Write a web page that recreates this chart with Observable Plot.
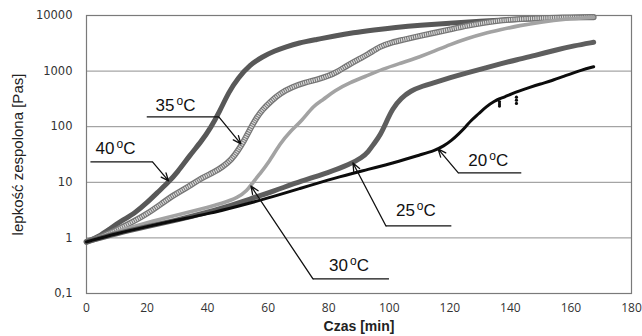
<!DOCTYPE html>
<html>
<head>
<meta charset="utf-8">
<script src="https://cdn.jsdelivr.net/npm/d3@7"></script>
<script src="https://cdn.jsdelivr.net/npm/@observablehq/plot@0.6"></script>
<style>
  body { margin: 0; background: #fff; }
  #chart svg { display: block; }
</style>
</head>
<body>
<div id="chart"></div>
<script>
// ---- data (time in min, viscosity in Pas) ----
const time40 = [0, 4, 8, 12, 16, 20, 24, 27, 30, 34, 38, 41, 44, 47, 50, 54, 58, 62, 66, 70, 76, 82, 88, 95, 102, 110, 120, 130, 140, 150, 160, 167.5];
const visc40 = [0.85, 1.05, 1.5, 2.1, 2.8, 4.3, 7, 10, 15, 30, 55, 95, 190, 420, 750, 1300, 1800, 2300, 2750, 3200, 3700, 4300, 4900, 5500, 6100, 6700, 7300, 7900, 8400, 8900, 9200, 9500];

const time35 = [0, 5, 10, 15, 20, 25, 29, 34, 38, 42, 45, 48, 50, 52, 54, 56, 58, 61, 64, 68, 72, 76, 80, 83, 86, 90, 93, 97, 101, 104, 110, 115, 120, 126, 132, 137, 145, 155, 167.5];
const visc35 = [0.85, 1.05, 1.4, 1.9, 2.7, 4.2, 6, 8.5, 12, 15, 19, 26, 37, 55, 90, 140, 200, 290, 400, 520, 620, 700, 820, 980, 1250, 1650, 2000, 2800, 3300, 3600, 4300, 4900, 5600, 6600, 7500, 8200, 8800, 9200, 9300];

const time30 = [0, 10, 20, 30, 38, 45, 50, 53, 55, 57.6, 60, 64, 67, 71, 75, 78, 82, 87, 92, 98, 104, 110, 115, 120, 126, 131, 137, 143, 150, 158, 167.5];
const visc30 = [0.85, 1.3, 1.9, 2.6, 3.3, 4.2, 5.3, 7, 10, 15, 22, 50, 80, 125, 240, 300, 450, 620, 800, 1100, 1400, 1800, 2300, 3000, 3900, 4700, 5600, 6600, 7600, 8600, 9300];

const time25 = [0, 10, 20, 30, 38, 46, 54, 62, 71, 80, 87, 91, 93, 95, 97, 99, 101, 104, 107, 111, 115, 120, 126, 132, 137, 142, 148, 155, 161, 167.5];
const visc25 = [0.85, 1.2, 1.6, 2.1, 2.7, 3.6, 5, 7, 10.6, 15, 21, 28, 35, 50, 70, 120, 210, 330, 440, 540, 620, 760, 940, 1150, 1365, 1600, 1900, 2400, 2850, 3300];

const time20 = [0, 10, 20, 30, 40, 50, 60, 70, 82, 93, 104, 110, 115, 118, 120.5, 123, 125, 127, 129.5, 132, 134.8, 136.5, 138, 140.4, 143, 146, 150, 153.6, 158, 163.6, 167.5];
const visc20 = [0.85, 1.2, 1.6, 2.1, 2.7, 3.7, 5.2, 7.6, 12, 17, 24.5, 31, 37, 45, 56, 75, 96, 130, 170, 230, 290, 320, 340, 390, 440, 500, 590, 670, 820, 1050, 1200];

// stray measurement points on the 20 °C curve
const glitchTime = [136.4, 136.4, 136.4, 142, 142, 142];
const glitchVisc = [280, 255, 235, 340, 300, 262];

// axis ticks
const xTicks = [0, 20, 40, 60, 80, 100, 120, 140, 160, 180];
const yTicks = [0.1, 1, 10, 100, 1000, 10000];
const yTickLabels = ["0,1", "1", "10", "100", "1000", "10000"];

// annotation labels (data coordinates)
const labelText = ["35°C", "40°C", "30°C", "25°C", "20°C"];
const labelTime = [22.8, 3.0, 80.1, 102.2, 126.1];
const labelVisc = [237, 39.8, 0.313, 3.06, 24.3];
// underline segments
const lineT1 = [19.9, 1.3, 99.9, 120.5, 143.6];
const lineT2 = [43.7, 21.8, 74.8, 98.9, 122.8];
const lineV = [150, 23.3, 0.183, 1.64, 14.8];
// arrow tips
const tipTime = [51.0, 27.1, 54.3, 88.0, 116.1];
const tipVisc = [49, 10.6, 8.6, 22.3, 39.9];

// ---- build tables ----
const mk = (ts, vs) => ts.map((t, i) => ({t, v: vs[i]}));
const s40 = mk(time40, visc40), s35 = mk(time35, visc35), s30 = mk(time30, visc30),
      s25 = mk(time25, visc25), s20 = mk(time20, visc20), glitch = mk(glitchTime, glitchVisc);
const ann = labelText.map((txt, i) => ({
  txt, lt: labelTime[i], lv: labelVisc[i],
  a: lineT1[i], b: lineT2[i], v: lineV[i], tt: tipTime[i], tv: tipVisc[i]
}));

const curve = "basis";
const chart = Plot.plot({
  width: 642,
  height: 336,
  marginLeft: 86,
  marginRight: 11,
  marginTop: 15,
  marginBottom: 43,
  style: {background: "#fff", fontFamily: "'Open Sans', sans-serif", fontSize: "12px", color: "#333"},
  x: {domain: [0, 180]},
  y: {type: "log", domain: [0.1, 10000]},
  marks: [
    Plot.ruleY(yTicks, {stroke: "#8f8f8f", strokeWidth: 1}),
    Plot.frame({stroke: "#7a7a7a", strokeWidth: 1.2}),
    Plot.axisX({ticks: xTicks, tickSize: 0, tickPadding: 10, label: null, fontFamily: "'Open Sans', sans-serif", fontSize: 12, fill: "#333"}),
    Plot.axisY({ticks: yTicks, tickSize: 0, tickPadding: 14, label: null,
      tickFormat: d => yTickLabels[yTicks.indexOf(d)] ?? "", fontFamily: "'DejaVu Sans', sans-serif", fontSize: 11.5, fill: "#333"}),
    Plot.text(["Czas [min]"], {frameAnchor: "bottom", dy: 33, lineAnchor: "middle", textAnchor: "middle", fontWeight: "bold", fontSize: 14, fontFamily: "'Liberation Sans', Arial, sans-serif", fill: "#222", letterSpacing: "1px"}),
    Plot.text(["lepkość zespolona [Pas]"], {frameAnchor: "left", dx: -68, rotate: -90, textAnchor: "middle", lineAnchor: "middle", fontSize: 15, fontFamily: "'Liberation Sans', Arial, sans-serif", fill: "#222"}),
    // curves
    Plot.line(s40, {x: "t", y: "v", stroke: "#585858", strokeWidth: 5, curve}),
    Plot.line(s35, {x: "t", y: "v", stroke: "#767676", strokeWidth: 6, curve}),
    Plot.line(s35, {x: "t", y: "v", stroke: "#dadada", strokeWidth: 3.4, strokeDasharray: "1.2,1", strokeLinecap: "butt", curve}),
    Plot.line(s30, {x: "t", y: "v", stroke: "#a3a3a3", strokeWidth: 3.6, curve}),
    Plot.line(s25, {x: "t", y: "v", stroke: "#5e5e5e", strokeWidth: 5, curve}),
    Plot.line(s20, {x: "t", y: "v", stroke: "#0c0c0c", strokeWidth: 3, curve}),
    Plot.dot(glitch, {x: "t", y: "v", r: 1.6, fill: "#0c0c0c"}),
    // annotations
    Plot.link(ann, {x1: "a", x2: "b", y1: "v", y2: "v", stroke: "#111", strokeWidth: 1.3}),
    Plot.arrow(ann, {x1: "b", y1: "v", x2: "tt", y2: "tv", stroke: "#111", strokeWidth: 1.3, headLength: 10, headAngle: 45}),
    Plot.text(ann, {x: "lt", y: "lv", text: "txt", textAnchor: "start", lineAnchor: "middle", fontSize: 17, fontFamily: "'Liberation Sans', Arial, sans-serif", fill: "#111"})
  ]
});

// render "°C" with a raised letter o as in the original
d3.select(chart).selectAll("text").each(function() {
  const el = d3.select(this);
  const m = /^(\d+)°C$/.exec(el.text());
  if (!m) return;
  el.text(m[1]);
  el.append("tspan").attr("dx", 2).attr("dy", -6).attr("font-size", 12).text("o");
  el.append("tspan").attr("dy", 6).text("C");
});

document.getElementById("chart").appendChild(chart);
</script>
</body>
</html>
